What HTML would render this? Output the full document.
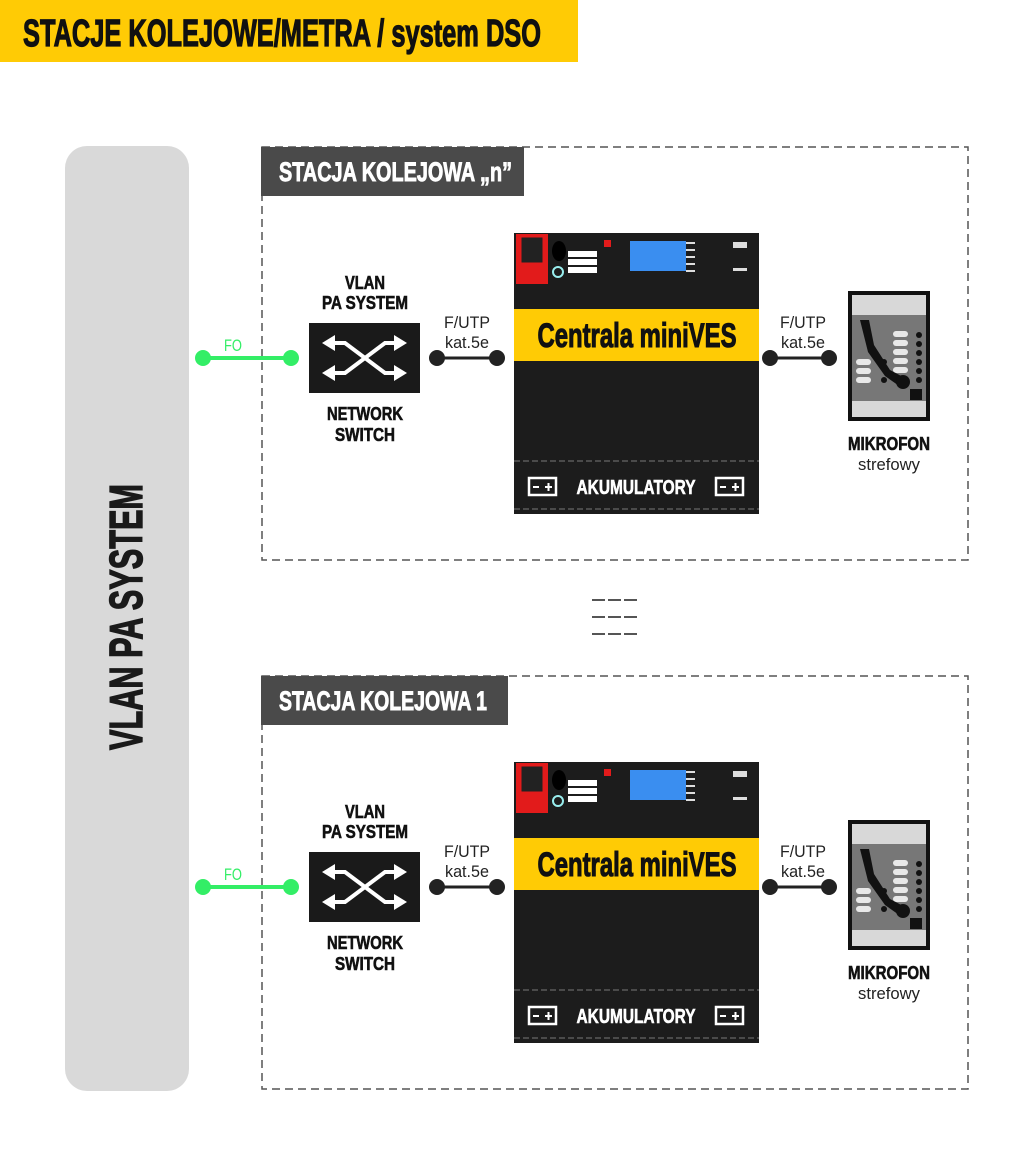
<!DOCTYPE html>
<html><head><meta charset="utf-8"><style>html,body{margin:0;padding:0;background:#fff}svg{display:block}text{font-family:"Liberation Sans",sans-serif;font-weight:bold}</style></head>
<body>
<svg width="1036" height="1163" viewBox="0 0 1036 1163" xmlns="http://www.w3.org/2000/svg">
<rect x="0" y="0" width="578" height="62" fill="#ffcb05"/>
<text x="23" y="46" font-size="38" fill="#111" stroke="#111" stroke-width="1.2" textLength="518" lengthAdjust="spacingAndGlyphs">STACJE KOLEJOWE/METRA / system DSO</text>

<rect x="65" y="146" width="124" height="945" rx="22" fill="#d9d9d9"/>
<text transform="translate(142,617) rotate(-90)" x="0" y="0" text-anchor="middle" font-size="46" fill="#1a1a1a" stroke="#1a1a1a" stroke-width="1.4" textLength="266" lengthAdjust="spacingAndGlyphs">VLAN PA SYSTEM</text>

<g fill="#555">
<rect x="592" y="599" width="13" height="2"/><rect x="608" y="599" width="13" height="2"/><rect x="624" y="599" width="13" height="2"/>
<rect x="592" y="616" width="13" height="2"/><rect x="608" y="616" width="13" height="2"/><rect x="624" y="616" width="13" height="2"/>
<rect x="592" y="633" width="13" height="2"/><rect x="608" y="633" width="13" height="2"/><rect x="624" y="633" width="13" height="2"/>
</g>

<!-- Station n -->
<g>
<rect x="262" y="147" width="706" height="413" fill="none" stroke="#555" stroke-width="1.5" stroke-dasharray="8,5"/>
<rect x="261" y="147" width="263" height="49" fill="#4a4a4a"/>
<text x="279" y="181" font-size="27" fill="#fff" stroke="#fff" stroke-width="0.9" textLength="233" lengthAdjust="spacingAndGlyphs">STACJA KOLEJOWA „n”</text>
<line x1="203" y1="358" x2="291" y2="358" stroke="#33ee66" stroke-width="4"/>
<circle cx="203" cy="358" r="8" fill="#33ee66"/><circle cx="291" cy="358" r="8" fill="#33ee66"/>
<text x="233" y="351" font-size="17" fill="#33ee66" text-anchor="middle" style="font-weight:normal" textLength="18" lengthAdjust="spacingAndGlyphs">FO</text>
<text x="365" y="289" font-size="18" text-anchor="middle" fill="#111" stroke="#111" stroke-width="0.6" textLength="40" lengthAdjust="spacingAndGlyphs">VLAN</text>
<text x="365" y="309" font-size="18" text-anchor="middle" fill="#111" stroke="#111" stroke-width="0.6" textLength="86" lengthAdjust="spacingAndGlyphs">PA SYSTEM</text>
<rect x="309" y="323" width="111" height="70" fill="#1a1a1a"/>
<g stroke="#fff" stroke-width="4" fill="none"><path d="M333 343 H345 L385 373 H395"/><path d="M333 373 H345 L385 343 H395"/></g>
<g fill="#fff"><path d="M322 343 L335 335 L335 351Z"/><path d="M322 373 L335 365 L335 381Z"/><path d="M407 343 L394 335 L394 351Z"/><path d="M407 373 L394 365 L394 381Z"/></g>
<text x="365" y="420" font-size="18" text-anchor="middle" fill="#111" stroke="#111" stroke-width="0.6" textLength="76" lengthAdjust="spacingAndGlyphs">NETWORK</text>
<text x="365" y="441" font-size="18" text-anchor="middle" fill="#111" stroke="#111" stroke-width="0.6" textLength="60" lengthAdjust="spacingAndGlyphs">SWITCH</text>
<text x="467" y="328" font-size="17" text-anchor="middle" fill="#222" style="font-weight:normal" textLength="46" lengthAdjust="spacingAndGlyphs">F/UTP</text>
<text x="467" y="348" font-size="17" text-anchor="middle" fill="#222" style="font-weight:normal" textLength="44" lengthAdjust="spacingAndGlyphs">kat.5e</text>
<line x1="437" y1="358" x2="497" y2="358" stroke="#222" stroke-width="3"/>
<circle cx="437" cy="358" r="8" fill="#222"/><circle cx="497" cy="358" r="8" fill="#222"/>
<rect x="514" y="233" width="245" height="281" fill="#1c1c1c"/>
<rect x="516" y="234" width="32" height="50" fill="#e21b1b"/>
<rect x="521" y="237" width="22" height="26" fill="#222" stroke="#e21b1b"/>
<ellipse cx="559" cy="251" rx="7" ry="10" fill="#000"/>
<circle cx="558" cy="272" r="5" fill="none" stroke="#9ee" stroke-width="2"/>
<rect x="568" y="251" width="29" height="6" fill="#fff"/><rect x="568" y="259" width="29" height="6" fill="#fff"/><rect x="568" y="267" width="29" height="6" fill="#fff"/>
<rect x="604" y="240" width="7" height="7" fill="#e21b1b"/>
<rect x="630" y="241" width="56" height="30" fill="#3a8ef0"/>
<g fill="#ddd"><rect x="686" y="242" width="9" height="2"/><rect x="686" y="249" width="9" height="2"/><rect x="686" y="256" width="9" height="2"/><rect x="686" y="263" width="9" height="2"/><rect x="686" y="270" width="9" height="2"/><rect x="733" y="242" width="14" height="6"/><rect x="733" y="268" width="14" height="3"/></g>
<rect x="514" y="309" width="245" height="52" fill="#ffcb05"/>
<text x="637" y="347" font-size="34" text-anchor="middle" fill="#111" stroke="#111" stroke-width="1.1" textLength="199" lengthAdjust="spacingAndGlyphs">Centrala miniVES</text>
<line x1="514" y1="461" x2="759" y2="461" stroke="#777" stroke-dasharray="6,3"/>
<line x1="514" y1="509" x2="759" y2="509" stroke="#777" stroke-dasharray="6,3"/>
<g fill="none" stroke="#fff" stroke-width="2.5"><rect x="529" y="478" width="27" height="17"/><rect x="716" y="478" width="27" height="17"/></g>
<g fill="#fff"><rect x="533" y="486" width="6" height="2"/><rect x="545" y="486" width="7" height="2"/><rect x="547.5" y="483" width="2" height="8"/><rect x="720" y="486" width="6" height="2"/><rect x="732" y="486" width="7" height="2"/><rect x="734.5" y="483" width="2" height="8"/></g>
<text x="636" y="494" font-size="20" text-anchor="middle" fill="#fff" stroke="#fff" stroke-width="0.6" textLength="119" lengthAdjust="spacingAndGlyphs">AKUMULATORY</text>
<text x="803" y="328" font-size="17" text-anchor="middle" fill="#222" style="font-weight:normal" textLength="46" lengthAdjust="spacingAndGlyphs">F/UTP</text>
<text x="803" y="348" font-size="17" text-anchor="middle" fill="#222" style="font-weight:normal" textLength="44" lengthAdjust="spacingAndGlyphs">kat.5e</text>
<line x1="770" y1="358" x2="829" y2="358" stroke="#222" stroke-width="3"/>
<circle cx="770" cy="358" r="8" fill="#222"/><circle cx="829" cy="358" r="8" fill="#222"/>
<rect x="848" y="291" width="82" height="130" fill="#111"/>
<rect x="852" y="295" width="74" height="20" fill="#d8d8d8"/>
<rect x="852" y="315" width="74" height="86" fill="#777"/>
<rect x="852" y="401" width="74" height="16" fill="#d8d8d8"/>
<g fill="#e8e8e8"><rect x="893" y="331" width="15" height="6" rx="3"/><rect x="893" y="340" width="15" height="6" rx="3"/><rect x="893" y="349" width="15" height="6" rx="3"/><rect x="893" y="358" width="15" height="6" rx="3"/><rect x="893" y="367" width="15" height="6" rx="3"/><rect x="856" y="359" width="15" height="6" rx="3"/><rect x="856" y="368" width="15" height="6" rx="3"/><rect x="856" y="377" width="15" height="6" rx="3"/></g>
<g fill="#111"><circle cx="919" cy="335" r="3"/><circle cx="919" cy="344" r="3"/><circle cx="919" cy="353" r="3"/><circle cx="919" cy="362" r="3"/><circle cx="919" cy="371" r="3"/><circle cx="919" cy="380" r="3"/><circle cx="884" cy="362" r="3"/><circle cx="884" cy="380" r="3"/><rect x="910" y="389" width="12" height="11"/></g>
<path d="M860 320 L869 320 L874 345 L890 370 L905 378 L902 388 L885 376 L868 352Z" fill="#111"/>
<circle cx="903" cy="382" r="7" fill="#111"/>
<text x="889" y="450" font-size="18" text-anchor="middle" fill="#111" stroke="#111" stroke-width="0.6" textLength="82" lengthAdjust="spacingAndGlyphs">MIKROFON</text>
<text x="889" y="470" font-size="17" text-anchor="middle" fill="#222" style="font-weight:normal" textLength="62" lengthAdjust="spacingAndGlyphs">strefowy</text>
</g>

<!-- Station 1 -->
<g transform="translate(0,529)">
<rect x="262" y="147" width="706" height="413" fill="none" stroke="#555" stroke-width="1.5" stroke-dasharray="8,5"/>
<rect x="261" y="147" width="247" height="49" fill="#4a4a4a"/>
<text x="279" y="181" font-size="27" fill="#fff" stroke="#fff" stroke-width="0.9" textLength="208" lengthAdjust="spacingAndGlyphs">STACJA KOLEJOWA 1</text>
<line x1="203" y1="358" x2="291" y2="358" stroke="#33ee66" stroke-width="4"/>
<circle cx="203" cy="358" r="8" fill="#33ee66"/><circle cx="291" cy="358" r="8" fill="#33ee66"/>
<text x="233" y="351" font-size="17" fill="#33ee66" text-anchor="middle" style="font-weight:normal" textLength="18" lengthAdjust="spacingAndGlyphs">FO</text>
<text x="365" y="289" font-size="18" text-anchor="middle" fill="#111" stroke="#111" stroke-width="0.6" textLength="40" lengthAdjust="spacingAndGlyphs">VLAN</text>
<text x="365" y="309" font-size="18" text-anchor="middle" fill="#111" stroke="#111" stroke-width="0.6" textLength="86" lengthAdjust="spacingAndGlyphs">PA SYSTEM</text>
<rect x="309" y="323" width="111" height="70" fill="#1a1a1a"/>
<g stroke="#fff" stroke-width="4" fill="none"><path d="M333 343 H345 L385 373 H395"/><path d="M333 373 H345 L385 343 H395"/></g>
<g fill="#fff"><path d="M322 343 L335 335 L335 351Z"/><path d="M322 373 L335 365 L335 381Z"/><path d="M407 343 L394 335 L394 351Z"/><path d="M407 373 L394 365 L394 381Z"/></g>
<text x="365" y="420" font-size="18" text-anchor="middle" fill="#111" stroke="#111" stroke-width="0.6" textLength="76" lengthAdjust="spacingAndGlyphs">NETWORK</text>
<text x="365" y="441" font-size="18" text-anchor="middle" fill="#111" stroke="#111" stroke-width="0.6" textLength="60" lengthAdjust="spacingAndGlyphs">SWITCH</text>
<text x="467" y="328" font-size="17" text-anchor="middle" fill="#222" style="font-weight:normal" textLength="46" lengthAdjust="spacingAndGlyphs">F/UTP</text>
<text x="467" y="348" font-size="17" text-anchor="middle" fill="#222" style="font-weight:normal" textLength="44" lengthAdjust="spacingAndGlyphs">kat.5e</text>
<line x1="437" y1="358" x2="497" y2="358" stroke="#222" stroke-width="3"/>
<circle cx="437" cy="358" r="8" fill="#222"/><circle cx="497" cy="358" r="8" fill="#222"/>
<rect x="514" y="233" width="245" height="281" fill="#1c1c1c"/>
<rect x="516" y="234" width="32" height="50" fill="#e21b1b"/>
<rect x="521" y="237" width="22" height="26" fill="#222" stroke="#e21b1b"/>
<ellipse cx="559" cy="251" rx="7" ry="10" fill="#000"/>
<circle cx="558" cy="272" r="5" fill="none" stroke="#9ee" stroke-width="2"/>
<rect x="568" y="251" width="29" height="6" fill="#fff"/><rect x="568" y="259" width="29" height="6" fill="#fff"/><rect x="568" y="267" width="29" height="6" fill="#fff"/>
<rect x="604" y="240" width="7" height="7" fill="#e21b1b"/>
<rect x="630" y="241" width="56" height="30" fill="#3a8ef0"/>
<g fill="#ddd"><rect x="686" y="242" width="9" height="2"/><rect x="686" y="249" width="9" height="2"/><rect x="686" y="256" width="9" height="2"/><rect x="686" y="263" width="9" height="2"/><rect x="686" y="270" width="9" height="2"/><rect x="733" y="242" width="14" height="6"/><rect x="733" y="268" width="14" height="3"/></g>
<rect x="514" y="309" width="245" height="52" fill="#ffcb05"/>
<text x="637" y="347" font-size="34" text-anchor="middle" fill="#111" stroke="#111" stroke-width="1.1" textLength="199" lengthAdjust="spacingAndGlyphs">Centrala miniVES</text>
<line x1="514" y1="461" x2="759" y2="461" stroke="#777" stroke-dasharray="6,3"/>
<line x1="514" y1="509" x2="759" y2="509" stroke="#777" stroke-dasharray="6,3"/>
<g fill="none" stroke="#fff" stroke-width="2.5"><rect x="529" y="478" width="27" height="17"/><rect x="716" y="478" width="27" height="17"/></g>
<g fill="#fff"><rect x="533" y="486" width="6" height="2"/><rect x="545" y="486" width="7" height="2"/><rect x="547.5" y="483" width="2" height="8"/><rect x="720" y="486" width="6" height="2"/><rect x="732" y="486" width="7" height="2"/><rect x="734.5" y="483" width="2" height="8"/></g>
<text x="636" y="494" font-size="20" text-anchor="middle" fill="#fff" stroke="#fff" stroke-width="0.6" textLength="119" lengthAdjust="spacingAndGlyphs">AKUMULATORY</text>
<text x="803" y="328" font-size="17" text-anchor="middle" fill="#222" style="font-weight:normal" textLength="46" lengthAdjust="spacingAndGlyphs">F/UTP</text>
<text x="803" y="348" font-size="17" text-anchor="middle" fill="#222" style="font-weight:normal" textLength="44" lengthAdjust="spacingAndGlyphs">kat.5e</text>
<line x1="770" y1="358" x2="829" y2="358" stroke="#222" stroke-width="3"/>
<circle cx="770" cy="358" r="8" fill="#222"/><circle cx="829" cy="358" r="8" fill="#222"/>
<rect x="848" y="291" width="82" height="130" fill="#111"/>
<rect x="852" y="295" width="74" height="20" fill="#d8d8d8"/>
<rect x="852" y="315" width="74" height="86" fill="#777"/>
<rect x="852" y="401" width="74" height="16" fill="#d8d8d8"/>
<g fill="#e8e8e8"><rect x="893" y="331" width="15" height="6" rx="3"/><rect x="893" y="340" width="15" height="6" rx="3"/><rect x="893" y="349" width="15" height="6" rx="3"/><rect x="893" y="358" width="15" height="6" rx="3"/><rect x="893" y="367" width="15" height="6" rx="3"/><rect x="856" y="359" width="15" height="6" rx="3"/><rect x="856" y="368" width="15" height="6" rx="3"/><rect x="856" y="377" width="15" height="6" rx="3"/></g>
<g fill="#111"><circle cx="919" cy="335" r="3"/><circle cx="919" cy="344" r="3"/><circle cx="919" cy="353" r="3"/><circle cx="919" cy="362" r="3"/><circle cx="919" cy="371" r="3"/><circle cx="919" cy="380" r="3"/><circle cx="884" cy="362" r="3"/><circle cx="884" cy="380" r="3"/><rect x="910" y="389" width="12" height="11"/></g>
<path d="M860 320 L869 320 L874 345 L890 370 L905 378 L902 388 L885 376 L868 352Z" fill="#111"/>
<circle cx="903" cy="382" r="7" fill="#111"/>
<text x="889" y="450" font-size="18" text-anchor="middle" fill="#111" stroke="#111" stroke-width="0.6" textLength="82" lengthAdjust="spacingAndGlyphs">MIKROFON</text>
<text x="889" y="470" font-size="17" text-anchor="middle" fill="#222" style="font-weight:normal" textLength="62" lengthAdjust="spacingAndGlyphs">strefowy</text>
</g>
</svg>
</body></html>
